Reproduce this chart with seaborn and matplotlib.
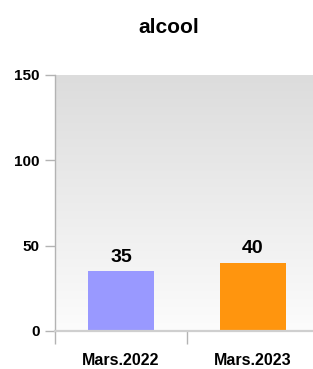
import numpy as np
import pandas as pd
import matplotlib
matplotlib.use("Agg")
import matplotlib.pyplot as plt
import seaborn as sns

# donnees du graphique
categories = ["Mars.2022", "Mars.2023"]
valeurs = [35, 40]
couleurs = ["#9999ff", "#ff950e"]
titre = "alcool"
yticks = [0, 50, 100, 150]

sns.set_style("white")
plt.rcParams["font.family"] = ["Liberation Sans", "DejaVu Sans"]
plt.rcParams["text.color"] = "black"
plt.rcParams["xtick.color"] = "black"
plt.rcParams["ytick.color"] = "black"

df = pd.DataFrame({"periode": categories, "valeur": valeurs})

fig = plt.figure(figsize=(3.13, 3.69), dpi=100)
# zone de trace en pixels : x 55 -> 319, y 75 -> 331
ax = fig.add_axes([55 / 313, (369 - 331) / 369, 264 / 313, 256 / 369])

# fond en degrade (gris en haut, blanc en bas)
grad = np.linspace(0, 1, 256).reshape(-1, 1)
ax.imshow(grad, cmap=matplotlib.colors.LinearSegmentedColormap.from_list(
    "g", ["#dcdcdc", "#fcfcfc"]), aspect="auto", extent=[0, 1, 0, 1],
    transform=ax.transAxes, zorder=0)

sns.barplot(data=df, x="periode", y="valeur", hue="periode", palette=couleurs,
            width=0.5, saturation=1, legend=False, ax=ax, zorder=2,
            edgecolor="none", linewidth=0)

for cont in ax.containers:
    ax.bar_label(cont, padding=4, fontsize=14, fontweight="bold", color="black")

ax.set_xlim(-0.5, 1.5)
ax.set_ylim(0, 150)
ax.set_yticks(yticks)
ax.set_xlabel("")
ax.set_ylabel("")
ax.set_title(titre, fontsize=15, fontweight="bold", pad=30, color="black",
             x=0.432)

for s in ["top", "right"]:
    ax.spines[s].set_visible(False)
ax.spines["left"].set_color("#b3b3b3")
ax.spines["left"].set_linewidth(1)
ax.spines["bottom"].set_color("#cfcfcf")
ax.spines["bottom"].set_linewidth(1.6)

ax.tick_params(axis="y", left=True, length=7, width=1, color="#b3b3b3",
               labelcolor="black", labelsize=11, pad=4)
ax.tick_params(axis="x", which="major", bottom=True, length=0,
               labelcolor="black", labelsize=11.5, pad=16)
ax.set_xticks([-0.5, 0.5, 1.5], minor=True)
ax.tick_params(axis="x", which="minor", bottom=True, length=9, width=1,
               color="#b3b3b3")
for lab in ax.get_xticklabels() + ax.get_yticklabels():
    lab.set_fontweight("bold")

fig.savefig("out.png", dpi=100)
